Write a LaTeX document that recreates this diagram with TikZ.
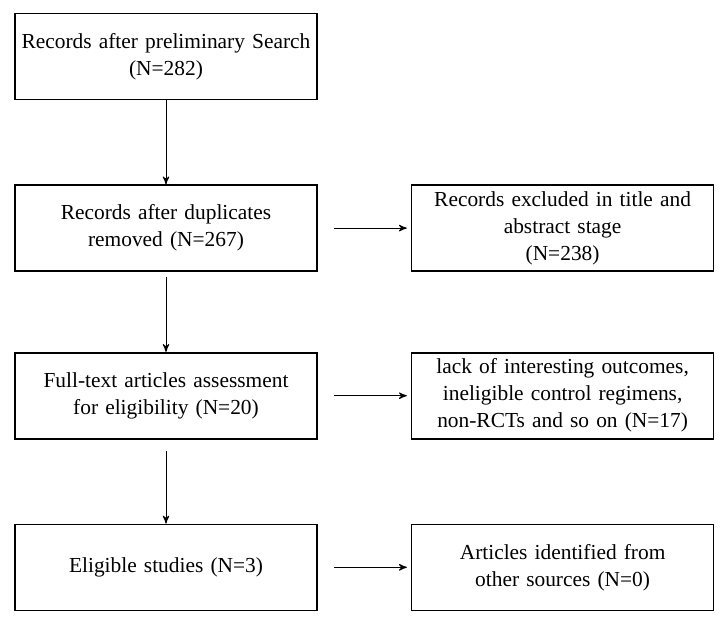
\documentclass[tikz,border=0pt]{standalone}
\usepackage{fontspec}
\setmainfont{Liberation Serif}
\usetikzlibrary{positioning,arrows}

\begin{document}
\begin{tikzpicture}[>=stealth',auto,node distance=42pt and 46.5pt,
	box/.style={draw,line width=0.8pt,minimum width=151pt,minimum height=43pt,
		text width=150pt,align=center,inner sep=0pt,
		font=\fontsize{10.7}{13.5}\selectfont},
	link/.style={->,line width=0.5pt}]
	\useasboundingbox (-83pt,28.25pt) rectangle (280pt,-282.75pt);
	\node[box] (search) {Records after preliminary Search\\(N=282)};
	\node[box] (dedup) [below=of search] {Records after duplicates\\removed (N=267)};
	\node[box] (full) [below=40pt of dedup] {Full-text articles assessment\\for eligibility (N=20)};
	\node[box] (eligible) [below=of full] {Eligible studies (N=3)};
	\node[box] (excl) [right=of dedup] {Records excluded in title and\\abstract stage\\(N=238)};
	\node[box] (reasons) [right=of full] {lack of interesting outcomes,\\ineligible control regimens,\\non-RCTs and so on (N=17)};
	\node[box] (other) [right=of eligible] {Articles identified from\\other sources (N=0)};
	\path[link]
	(search) edge (dedup)
	(dedup) edge[shorten <=2.5pt] (full)
	(full) edge[shorten <=5.5pt] (eligible)
	(dedup) edge[shorten <=8pt,shorten >=2pt] (excl)
	(full) edge[shorten <=8pt,shorten >=2pt] (reasons)
	(eligible) edge[shorten <=8pt,shorten >=2pt] (other);
\end{tikzpicture}
\end{document}
